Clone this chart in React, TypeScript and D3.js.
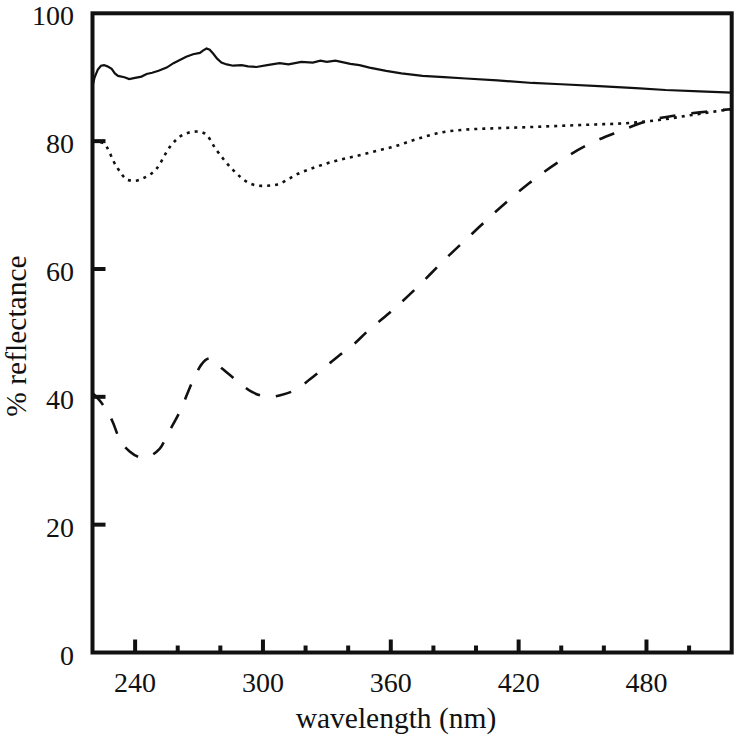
import React from "react";
import * as d3 from "d3";

// solid curve
const solidNm = [220, 221, 222.5, 224, 225.4, 227, 229, 230.5, 232, 235, 237.2, 240, 243, 245.4, 248, 251, 254.8, 258, 261, 264, 267.2, 270.4, 272, 273.5, 275, 276.6, 278.5, 280.5, 283, 286, 290, 293, 296.9, 302, 307.8, 312, 318, 323.4, 327, 330, 334, 336.7, 341, 345.3, 350, 357.8, 365, 374.9, 385, 395.3, 410, 426.5, 440, 457.7, 475, 489, 505, 520];
const solidVal = [88.6, 90.0, 91.2, 91.8, 91.9, 91.7, 91.3, 90.6, 90.2, 90.0, 89.7, 89.9, 90.1, 90.5, 90.7, 91.0, 91.5, 92.2, 92.7, 93.2, 93.6, 93.8, 94.2, 94.5, 94.3, 93.7, 92.9, 92.3, 92.0, 91.8, 91.9, 91.7, 91.6, 91.9, 92.2, 92.0, 92.4, 92.3, 92.6, 92.4, 92.6, 92.4, 92.1, 91.9, 91.5, 91.0, 90.6, 90.2, 90.0, 89.8, 89.5, 89.1, 88.9, 88.6, 88.3, 88.0, 87.8, 87.6];

// dotted curve
const dottedNm = [220, 225, 231.3, 236.8, 240, 243.8, 250.1, 256.3, 262.5, 268.8, 272.7, 278.2, 285.9, 293.8, 299.4, 305, 317.2, 332.8, 345.3, 356, 360.9, 372, 384.3, 395, 407.7, 425, 440, 455, 470, 485.8, 501.4, 519.4];
const dottedVal = [80.0, 79.7, 76.0, 73.9, 73.8, 74.2, 75.7, 79.1, 81.0, 81.5, 81.2, 78.6, 75.5, 73.4, 73.0, 73.1, 75.0, 76.8, 77.8, 78.7, 79.1, 80.3, 81.4, 81.8, 82.0, 82.2, 82.4, 82.6, 82.8, 83.3, 84.1, 85.0];

// dashed curve
const dashedNm = [220, 225, 229.7, 232.1, 237.6, 243.8, 251.6, 255.5, 261, 267.2, 271, 275, 280.5, 287.5, 294.6, 303.1, 308.6, 316.4, 321.9, 329.7, 335.9, 342.2, 349.2, 359.3, 372.6, 385.1, 398.4, 411.7, 424.9, 439, 452.2, 467.1, 481.1, 495.2, 507.7, 519.4];
const dashedVal = [40.6, 38.7, 35.9, 33.8, 31.4, 30.5, 31.9, 34.3, 37.7, 42.6, 45.0, 46.0, 44.5, 42.6, 40.8, 40.0, 40.3, 41.3, 42.7, 44.8, 46.5, 48.1, 50.3, 53.1, 57.2, 61.4, 65.6, 69.7, 73.4, 76.8, 79.4, 81.5, 83.2, 84.1, 84.6, 85.0];

const xMajorTicks = [240, 300, 360, 420, 480];
const xMinorTicks = [260, 280, 320, 340, 380, 400, 440, 460, 500];
const yTicks = [20, 40, 60, 80];
const yLabels = [0, 20, 40, 60, 80, 100];

const xTitle = "wavelength (nm)";
const yTitle = "% reflectance";

export default function App() {
  const W = 736, H = 739;
  const left = 92.5, right = 731.7, top = 13.3, bottom = 652.5;
  const x = d3.scaleLinear().domain([220, 520]).range([left, right]);
  const y = d3.scaleLinear().domain([0, 100]).range([bottom, top]);
  const font = "'Liberation Serif', 'Times New Roman', serif";

  const mk = (nm: number[], v: number[], curve: any) =>
    d3.line<number>().x((_, i) => x(nm[i])).y((d) => y(d)).curve(curve)(v) || "";

  const solidPath = mk(solidNm, solidVal, d3.curveLinear);
  const dottedPath = mk(dottedNm, dottedVal, d3.curveMonotoneX);
  const dashedPath = mk(dashedNm, dashedVal, d3.curveMonotoneX);

  return (
    <svg width={W} height={H} style={{ position: "absolute", left: 0, top: 0, background: "#fff" }}>
      <defs>
        <clipPath id="plot">
          <rect x={left} y={top} width={right - left} height={bottom - top} />
        </clipPath>
      </defs>
      <g clipPath="url(#plot)" fill="none" stroke="#111">
        <path d={solidPath} strokeWidth={2.2} />
        <path d={dottedPath} strokeWidth={2.6} strokeDasharray="3,5" />
        <path d={dashedPath} strokeWidth={2.6} strokeDasharray="16,16" />
      </g>
      {/* frame */}
      <rect x={left} y={top} width={right - left} height={bottom - top} fill="none" stroke="#111" strokeWidth={4} />
      {/* x ticks */}
      {xMajorTicks.map((t) => (
        <line key={"M" + t} x1={x(t)} x2={x(t)} y1={bottom} y2={bottom - 13} stroke="#111" strokeWidth={4} />
      ))}
      {xMinorTicks.map((t) => (
        <line key={"m" + t} x1={x(t)} x2={x(t)} y1={bottom} y2={bottom - 7} stroke="#111" strokeWidth={4} />
      ))}
      {yTicks.map((t) => (
        <line key={"y" + t} x1={left} x2={left + 13} y1={y(t)} y2={y(t)} stroke="#111" strokeWidth={4} />
      ))}
      {/* labels */}
      {xMajorTicks.map((t) => (
        <text key={"xl" + t} x={x(t)} y={692} textAnchor="middle" fontFamily={font} fontSize={28} fill="#111">
          {t}
        </text>
      ))}
      {yLabels.map((t) => (
        <text key={"yl" + t} x={74} y={y(t) + 12} textAnchor="end" fontFamily={font} fontSize={28} fill="#111">
          {t}
        </text>
      ))}
      <text x={396} y={728} textAnchor="middle" fontFamily={font} fontSize={29.5} fill="#111">
        {xTitle}
      </text>
      <text
        transform={`translate(26, 336) rotate(-90)`}
        textAnchor="middle"
        fontFamily={font}
        fontSize={29.5}
        fill="#111"
      >
        {yTitle}
      </text>
    </svg>
  );
}
